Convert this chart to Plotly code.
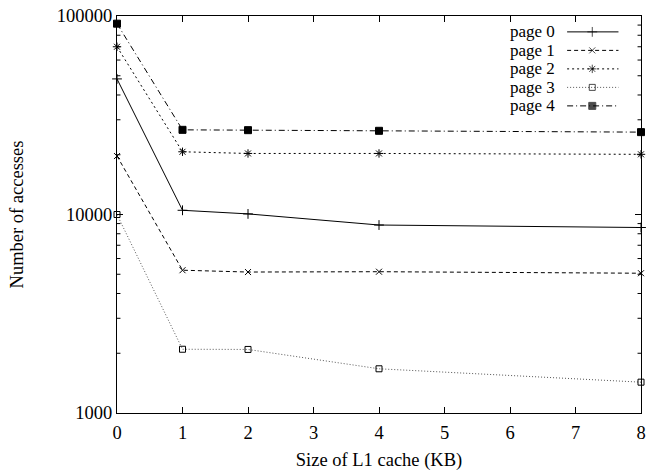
import plotly.graph_objects as go

cache_kb = [0, 1, 2, 4, 8]
page0 = [48200, 10500, 10070, 8850, 8600]
page1 = [19700, 5240, 5130, 5150, 5060]
page2 = [70000, 20700, 20300, 20300, 20100]
page3 = [10000, 2095, 2090, 1670, 1430]
page4 = [91500, 26700, 26600, 26400, 26000]
names = ["page 0", "page 1", "page 2", "page 3", "page 4"]
series = [page0, page1, page2, page3, page4]
x_tickvals = [0, 1, 2, 3, 4, 5, 6, 7, 8]
y_minor_ticks = [2000, 3000, 4000, 5000, 6000, 7000, 8000, 9000,
                 20000, 30000, 40000, 50000, 60000, 70000, 80000, 90000]

symbols = ["cross-thin-open", "x-thin-open", "asterisk-open", "square-open", "square"]
dashes = ["solid", "4px,3px", "2px,3px", "1px,2px", "6px,3px,1px,3px"]
lcolors = ["black", "black", "black", "#555", "black"]
msizes = [7, 6, 7, 6, 7]

FONT = "Liberation Serif"
FS = 18.5
LFS = 17
fig = go.Figure()
for i, (n, s) in enumerate(zip(names, series)):
    fig.add_trace(go.Scatter(
        x=cache_kb, y=s, mode="lines+markers", name=n, showlegend=False,
        line=dict(color=lcolors[i], width=1, dash=dashes[i]),
        marker=dict(symbol=symbols[i], size=msizes[i], color="black",
                    line=dict(color="black", width=1)),
        cliponaxis=False,
    ))

# minor log ticks (left and mirrored right), gnuplot style; shape y in data values
tick_frac = 3.5 / 529
for v in y_minor_ticks:
    for x0, x1 in ((0, tick_frac), (1 - tick_frac, 1)):
        fig.add_shape(type="line", xref="paper", yref="y",
                      x0=x0, x1=x1, y0=v, y1=v,
                      line=dict(color="black", width=1), layer="above")

# custom gnuplot-style legend (samples on an overlay axis in [0,1])
lx0, lx1, lxm = 0.859, 0.957, 0.907
ly0, dly = 0.960, 0.0466
for i, n in enumerate(names):
    yy = ly0 - i * dly
    fig.add_trace(go.Scatter(
        x=[lx0, lxm, lx1], y=[yy, yy, yy], xaxis="x2", yaxis="y2",
        mode="lines+markers", showlegend=False, hoverinfo="skip",
        line=dict(color=lcolors[i], width=1, dash=dashes[i]),
        marker=dict(symbol=symbols[i], size=[0, msizes[i], 0], color="black",
                    line=dict(color="black", width=1)),
    ))
    fig.add_annotation(x=0.837, y=yy, xref="paper", yref="paper", text=n,
                       showarrow=False, xanchor="right", yanchor="middle",
                       borderpad=0,
                       font=dict(family=FONT, size=LFS, color="black"))

axis_common = dict(showline=True, linecolor="black", linewidth=1, mirror="ticks",
                   ticks="inside", ticklen=6, tickcolor="black", showgrid=False,
                   zeroline=False, ticklabeloverflow="allow",
                   tickfont=dict(family=FONT, size=FS, color="black"))

fig.update_layout(
    width=650, height=471,
    margin=dict(l=117, r=4, t=16, b=58),
    paper_bgcolor="white", plot_bgcolor="white",
    font=dict(family=FONT, color="black"),
    xaxis=dict(range=[0, 8], tickvals=x_tickvals, ticklabelstandoff=3,
               title=dict(text="Size of L1 cache (KB)", font=dict(family=FONT, size=FS), standoff=10),
               **axis_common),
    yaxis=dict(type="log", range=[3, 5], dtick=1, tickformat="d", exponentformat="none",
               title=dict(text="Number of accesses", font=dict(family=FONT, size=FS), standoff=28),
               **axis_common),
    xaxis2=dict(overlaying="x", range=[0, 1], visible=False),
    yaxis2=dict(overlaying="y", range=[0, 1], visible=False),
)

fig.write_html("out.html")
